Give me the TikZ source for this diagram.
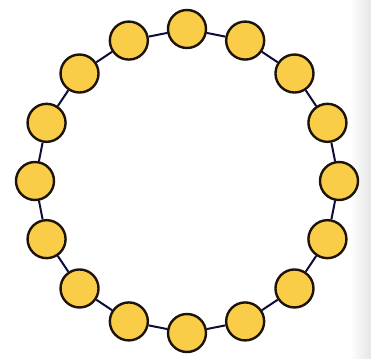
\documentclass[tikz,border=0pt]{standalone}
\begin{document}
\begin{tikzpicture}[x=1pt,y=1pt,
  bead/.style={circle,draw=black!85!brown,line width=2.4pt,fill=beadyellow,minimum size=38pt,inner sep=0pt},
  link/.style={draw=black!80!blue!90!gray,line width=2pt}]
\definecolor{beadyellow}{HTML}{F9CD48}
\useasboundingbox (0,0) rectangle (371,358);
\fill[white] (0,0) rectangle (371,358);
\shade[left color=white,right color=black!10] (350,0) rectangle (371,358);
\foreach \i in {0,...,15}{
  \node[bead] (b\i) at ({187+152*sin(22.5*\i)},{177+152*cos(22.5*\i)}) {};
}
\foreach \i [evaluate=\i as \j using {int(mod(\i+1,16))}] in {0,...,15}{
  \draw[link] (b\i) -- (b\j);
}
\end{tikzpicture}
\end{document}
